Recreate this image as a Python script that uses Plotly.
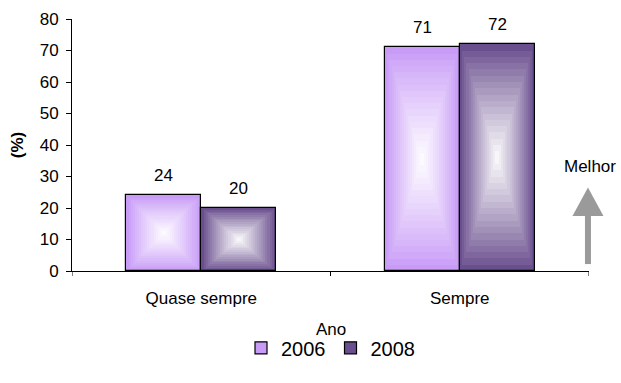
import plotly.graph_objects as go

# Survey answers per category, by year (%)
categories = ["Quase sempre", "Sempre"]
years = ["2006", "2008"]
values_2006 = [24, 71]
values_2008 = [20, 72]

series = [
    ("2006", values_2006, (200, 155, 247)),
    ("2008", values_2008, (106, 79, 142)),
]

BAR_W = 0.29           # width of one bar in category units
OFFSETS = [-0.5, 0.5]  # offset of each series, in bar widths
N_STEPS = 18           # rings of the rectangular gradient

FONT = "Liberation Sans, Arial, sans-serif"


def mix(c, t):
    """Blend colour c toward white by fraction t."""
    r, g, b = (round(v + (255 - v) * t) for v in c)
    return f"rgb({r},{g},{b})"


fig = go.Figure()
x_idx = list(range(len(categories)))

for (name, vals, col), off in zip(series, OFFSETS):
    xs = [i + off * BAR_W for i in x_idx]
    # solid base bar with outline (also the legend entry)
    fig.add_trace(go.Bar(
        x=xs, y=vals, width=BAR_W, name=name,
        marker=dict(color=mix(col, 0.0), line=dict(color="black", width=1.2)),
    ))
    # concentric rectangles fading to white at the centre
    for s in range(1, N_STEPS):
        k = 1 - s / N_STEPS
        t = (s / N_STEPS) ** 0.9
        fig.add_trace(go.Bar(
            x=xs, y=[v * k for v in vals], base=[v * (1 - k) / 2 for v in vals],
            width=BAR_W * k * 0.985,
            marker=dict(color=mix(col, t), line=dict(width=0)),
            showlegend=False, hoverinfo="skip",
        ))
    # value labels above each bar
    for x, v in zip(xs, vals):
        fig.add_annotation(x=x, y=v, text=str(v), showarrow=False,
                           yanchor="middle", yshift=20,
                           font=dict(family=FONT, size=17, color="black"))

# "Melhor" arrow at the right edge of the plot
arrow_col = "#9a9a9a"
fig.add_shape(type="rect", xref="paper", yref="y", xsizemode="pixel", xanchor=0.998,
              x0=-3, x1=3, y0=2.2, y1=18, fillcolor=arrow_col, line=dict(width=0))
fig.add_shape(type="path", xref="paper", yref="y", xsizemode="pixel", xanchor=0.998,
              path="M -15.5,17.5 L 15.5,17.5 L 0,26.5 Z", fillcolor=arrow_col,
              line=dict(width=0))
fig.add_annotation(text="Melhor", xref="paper", yref="y", x=1.002, y=33.1,
                   xanchor="center", yanchor="middle",
                   showarrow=False, font=dict(family=FONT, size=17, color="black"))

# x-axis title
fig.add_annotation(text="Ano", xref="paper", yref="paper", x=0.5, y=-0.234,
                   xanchor="center", yanchor="middle",
                   showarrow=False, font=dict(family=FONT, size=17, color="black"))

fig.update_layout(
    width=621, height=383,
    margin=dict(l=72, r=32, t=19, b=112, autoexpand=False),
    paper_bgcolor="white", plot_bgcolor="white",
    barmode="overlay", bargap=0,
    font=dict(family=FONT, size=17, color="black"),
    showlegend=True,
    legend=dict(orientation="h", x=0.5, xanchor="center", y=-0.305, yanchor="middle",
                font=dict(size=20), itemwidth=30, traceorder="normal"),
)
fig.update_xaxes(
    range=[-0.5, 1.5], tickvals=x_idx, ticktext=categories,
    showline=True, linecolor="black", linewidth=1, ticks="",
    ticklabelstandoff=12,
    showgrid=False, zeroline=False,
)
fig.update_yaxes(
    range=[0, 80], dtick=10, showline=True, linecolor="black", linewidth=1,
    ticks="outside", ticklen=5, tickcolor="black", ticklabelstandoff=4,
    title=dict(text="<b>(%)</b>", font=dict(size=17), standoff=11),
    showgrid=False, zeroline=False,
)
# boundary ticks between categories
for xb in [-0.5, 0.5, 1.5]:
    fig.add_shape(type="line", xref="x", yref="paper", ysizemode="pixel", yanchor=0,
                  x0=xb, x1=xb, y0=0, y1=-5, line=dict(color="black", width=1))

fig.write_html("out.html")
